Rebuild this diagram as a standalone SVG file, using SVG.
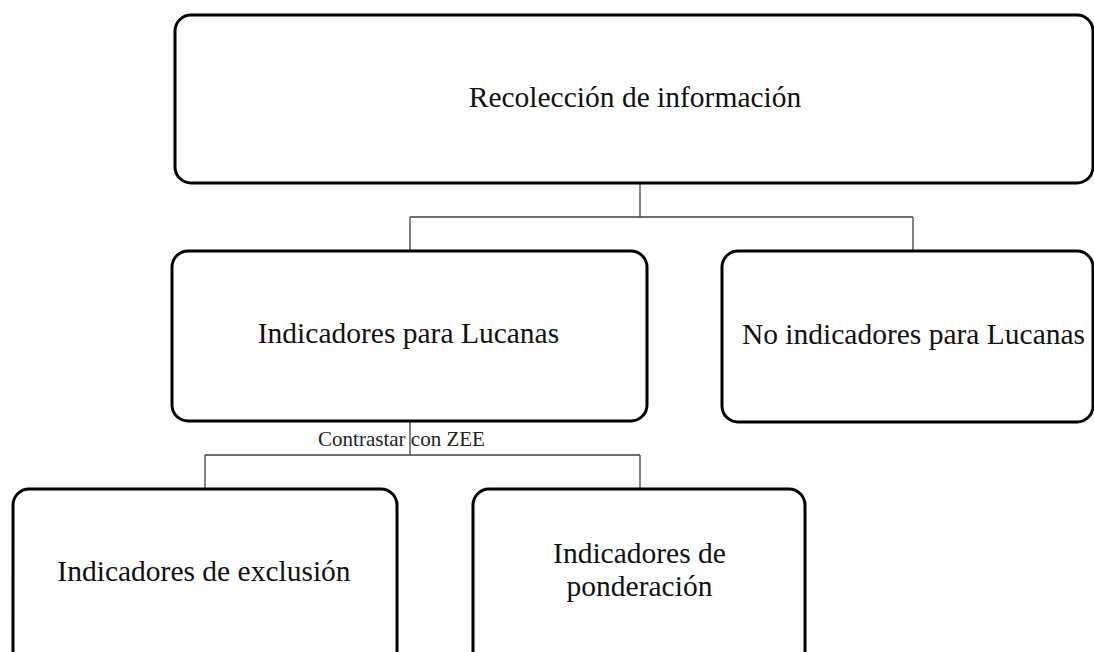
<svg xmlns="http://www.w3.org/2000/svg" width="1094" height="652" viewBox="0 0 1094 652">
  <style>
    .box { fill: #ffffff; stroke: #000000; stroke-width: 3; }
    .lbl { font-family: "Liberation Serif", "Times New Roman", serif; font-size: 29.5px; fill: #111111; text-anchor: middle; }
    .small { font-family: "Liberation Serif", "Times New Roman", serif; font-size: 21px; fill: #222222; text-anchor: middle; }
    .conn { fill: none; stroke: #404040; stroke-width: 1.3; }
  </style>
  <rect width="1094" height="652" fill="#ffffff"/>
  <g id="connectors">
    <path class="conn" d="M640,183 V217 M410,217 H913 M410,217 V250 M913,217 V251"/>
    <path class="conn" d="M410,421 V455 M205,455 H640 M205,455 V489 M640,455 V489"/>
    <text class="small" x="401.5" y="446">Contrastar con ZEE</text>
  </g>
  <g id="node-recoleccion">
    <rect class="box" x="175" y="15" width="918" height="168" rx="16" ry="16"/>
    <text class="lbl" x="635" y="107">Recolección de información</text>
  </g>
  <g id="node-indicadores-lucanas">
    <rect class="box" x="172" y="251" width="475" height="170" rx="16" ry="16"/>
    <text class="lbl" x="408.5" y="343">Indicadores para Lucanas</text>
  </g>
  <g id="node-no-indicadores">
    <rect class="box" x="722" y="251" width="371" height="171" rx="16" ry="16"/>
    <text class="lbl" x="913.5" y="344">No indicadores para Lucanas</text>
  </g>
  <g id="node-exclusion">
    <rect class="box" x="13" y="489" width="384" height="180" rx="16" ry="16"/>
    <text class="lbl" x="204" y="581">Indicadores de exclusión</text>
  </g>
  <g id="node-ponderacion">
    <rect class="box" x="473" y="489" width="332" height="180" rx="16" ry="16"/>
    <text class="lbl" x="639.5" y="563">Indicadores de</text>
    <text class="lbl" x="639.5" y="596">ponderación</text>
  </g>
</svg>
